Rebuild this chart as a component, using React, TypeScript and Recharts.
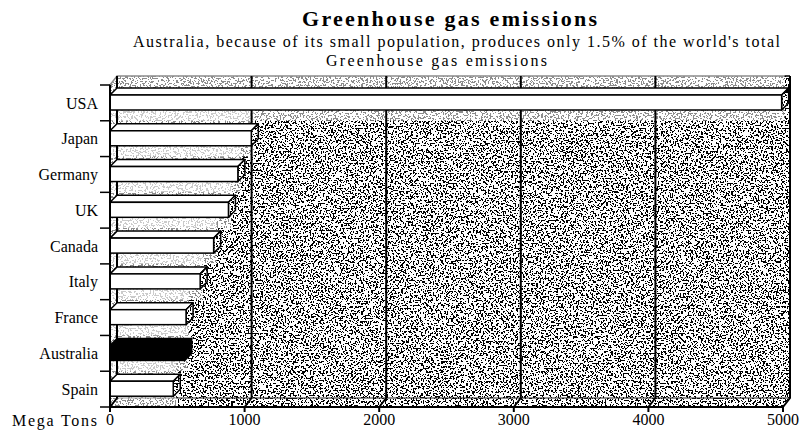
import React from 'react';
import { BarChart, Bar, XAxis, YAxis, CartesianGrid, ReferenceArea } from 'recharts';

const categories = ['USA', 'Japan', 'Germany', 'UK', 'Canada', 'Italy', 'France', 'Australia', 'Spain'];
const emissions = [4990, 1050, 950, 880, 770, 670, 565, 555, 470];
const xTicks = [0, 1000, 2000, 3000, 4000, 5000];
const highlighted = 'Australia';
const titleText = 'Greenhouse gas emissions';
const subtitleLine1 = "Australia, because of its small population, produces only 1.5% of the world's total";
const subtitleLine2 = 'Greenhouse gas emissions';
const unitLabel = 'Mega Tons';

const data = categories.map((name, i) => ({ name, value: emissions[i] }));

const FONT = '"Liberation Serif", "Times New Roman", serif';
const DX = 7;
const DY = 9;
const BDX = 7;
const BDY = 7;

const WallShape = (props: any) => {
  const { x, y, width: w, height: h } = props;
  if (x == null) return null;
  const poly = `M${x},${y} L${x + DX},${y - DY} L${x + w + DX},${y - DY} L${x + w + DX},${y + h - DY} L${x + w},${y + h} L${x},${y + h} Z`;
  return (
    <g>
      <path d={poly} fill="#fff" filter="url(#stipDense)" />
      <path d={`M${x},${y} L${x + DX},${y - DY} L${x + w + DX},${y - DY}`} fill="none" stroke="#000" strokeWidth={1.5} />
      <path d={`M${x + w + DX},${y - DY} L${x + w + DX},${y + h - DY}`} fill="none" stroke="#777" strokeWidth={1} strokeDasharray="1 1" />
      <path d={`M${x + DX},${y + h - DY} L${x + w + DX},${y + h - DY}`} fill="none" stroke="#222" strokeWidth={1} />
    </g>
  );
};

const LightStrip = (props: any) => {
  const { x, y, width: w, height: h } = props;
  if (x == null) return null;
  return <rect x={x} y={y - 11} width={w + 3} height={h + 11} fill="#fff" fillOpacity={0.55} />;
};

const gridLine = (props: any) => {
  const { x1, y1, y2, key, index } = props;
  return (
    <path
      key={key ?? `g${index}`}
      d={`M${x1 + DX},${y1 - DY} L${x1 + DX},${y2 - DY} L${x1},${y2}`}
      fill="none"
      stroke="#000"
      strokeWidth={2}
    />
  );
};

const CatTick = (props: any) => {
  const { x, y, payload, index } = props;
  const off = payload && payload.offset != null ? payload.offset : 0;
  const axisX = x + 12;
  const isLast = payload && payload.value === categories[categories.length - 1];
  return (
    <g key={`t${index}`}>
      <text x={x} y={y} dy="0.355em" textAnchor="end" fontFamily={FONT} fontSize={16} fill="#000">
        {payload.value}
      </text>
      <line x1={axisX - 10} y1={y - off} x2={axisX} y2={y - off} stroke="#000" strokeWidth={1.5} />
      {isLast ? <line x1={axisX - 10} y1={y + off} x2={axisX} y2={y + off} stroke="#000" strokeWidth={1.5} /> : null}
    </g>
  );
};

const Bar3D = (props: any) => {
  const { x, y, width, height, payload } = props;
  if (x == null || width == null) return null;
  const isHi = payload && payload.name === highlighted;
  const front = isHi ? '#000' : '#fff';
  const top = `M${x},${y} L${x + BDX},${y - BDY} L${x + width + BDX},${y - BDY} L${x + width},${y} Z`;
  const side = `M${x + width},${y} L${x + width + BDX},${y - BDY} L${x + width + BDX},${y + height - BDY} L${x + width},${y + height} Z`;
  return (
    <g>
      <path d={top} fill={front} stroke="#000" strokeWidth={1.5} strokeLinejoin="round" />
      {isHi ? (
        <path d={side} fill="#000" stroke="#000" strokeWidth={1.5} />
      ) : (
        <g>
          <path d={side} fill="#fff" filter="url(#stipDense)" />
          <path d={side} fill="none" stroke="#000" strokeWidth={1.5} strokeLinejoin="round" />
        </g>
      )}
      <rect x={x} y={y} width={width} height={height} fill={front} stroke="#000" strokeWidth={1.5} />
    </g>
  );
};

const thresholdTable = (from: number) => Array.from({ length: 40 }, (_, i) => (i >= from ? 1 : 0)).join(' ');

const StippleDefs = () => (
  <svg width={0} height={0} style={{ position: 'absolute' }}>
    <defs>
      <filter id="stipDense" filterUnits="userSpaceOnUse" x={0} y={0} width={804} height={437} colorInterpolationFilters="sRGB">
        <feTurbulence type="fractalNoise" baseFrequency={0.6} numOctaves={1} seed={7} result="noise" />
        <feColorMatrix in="noise" type="matrix" values="0 0 0 0 0  0 0 0 0 0  0 0 0 0 0  1 0 0 0 0" result="a" />
        <feComponentTransfer in="a" result="t">
          <feFuncA type="discrete" tableValues={thresholdTable(22)} />
        </feComponentTransfer>
        <feFlood floodColor="#ffffff" result="w" />
        <feMerge result="m">
          <feMergeNode in="w" />
          <feMergeNode in="t" />
        </feMerge>
        <feComposite in="m" in2="SourceGraphic" operator="in" />
      </filter>
    </defs>
  </svg>
);

export default function App() {
  return (
    <div style={{ position: 'absolute', left: 0, top: 0, width: 804, height: 437, background: '#fff', overflow: 'hidden' }}>
      <StippleDefs />
      <BarChart
        width={804}
        height={437}
        data={data}
        layout="vertical"
        margin={{ top: 85, right: 21, bottom: 0, left: 0 }}
        barCategoryGap={0}
      >
        <ReferenceArea x1={0} x2={5000} shape={WallShape} zIndex={-300} ifOverflow="visible" />
        {data.map((d) => (
          <ReferenceArea
            key={`ls-${d.name}`}
            x1={0}
            x2={d.value}
            y1={d.name}
            y2={d.name}
            shape={LightStrip}
            zIndex={-200}
            ifOverflow="visible"
          />
        ))}
        <CartesianGrid horizontal={false} vertical={gridLine} zIndex={-100} />
        <XAxis
          type="number"
          domain={[0, 5000]}
          ticks={xTicks}
          interval={0}
          height={30}
          tickSize={5}
          axisLine={{ stroke: '#000', strokeWidth: 2 }}
          tickLine={{ stroke: '#000', strokeWidth: 2 }}
          tick={{ fill: '#000', fontSize: 16, fontFamily: FONT }}
        />
        <YAxis
          type="category"
          dataKey="name"
          width={110}
          interval={0}
          tickSize={12}
          tickMargin={0}
          axisLine={{ stroke: '#000', strokeWidth: 2 }}
          tickLine={false}
          tick={(p: any) => <CatTick {...p} />}
        />
        <Bar dataKey="value" barSize={15} shape={Bar3D} isAnimationActive={false} />
      </BarChart>
      <svg width={804} height={437} style={{ position: 'absolute', left: 0, top: 0, pointerEvents: 'none' }}>
        <text x={302} y={26} textLength={295} lengthAdjust="spacing" fontFamily={FONT} fontWeight="bold" fontSize={22} fill="#000">
          {titleText}
        </text>
        <text x={133} y={47} textLength={647} lengthAdjust="spacing" fontFamily={FONT} fontSize={16} fill="#000">
          {subtitleLine1}
        </text>
        <text x={326} y={66} textLength={221} lengthAdjust="spacing" fontFamily={FONT} fontSize={16} fill="#000">
          {subtitleLine2}
        </text>
        <text x={12} y={426} textLength={85} lengthAdjust="spacing" fontFamily={FONT} fontSize={16} fill="#000">
          {unitLabel}
        </text>
      </svg>
    </div>
  );
}
